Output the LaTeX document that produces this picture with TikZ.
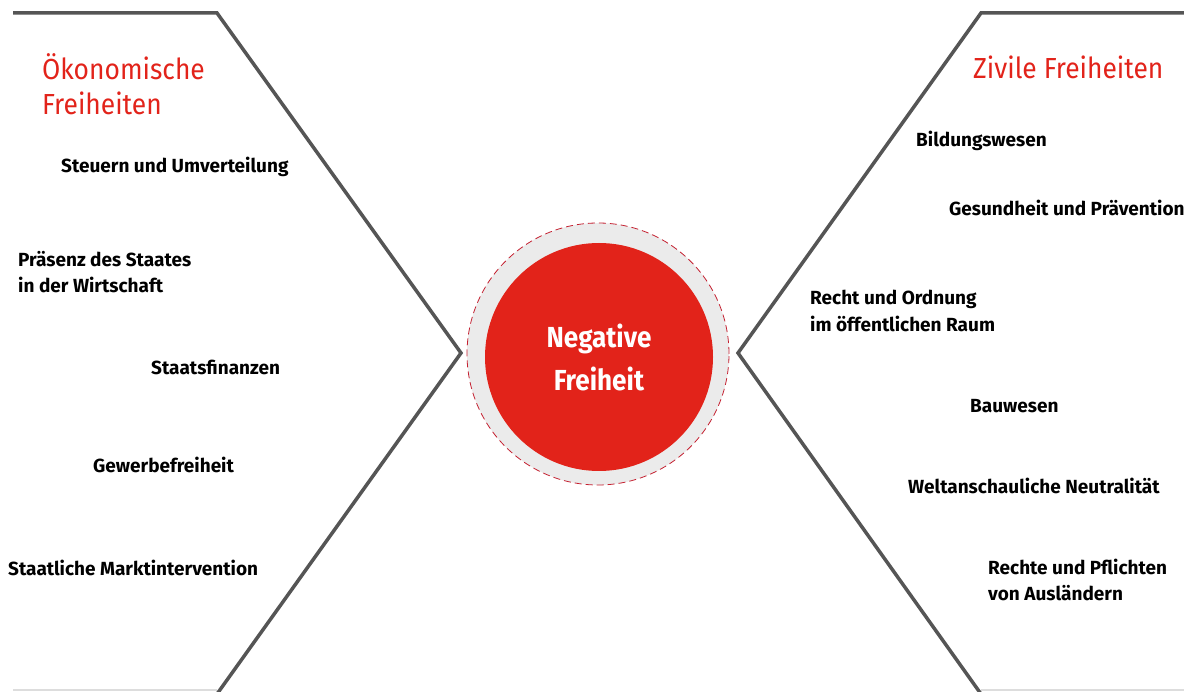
\documentclass[tikz,border=0pt]{standalone}
\usepackage{fontspec}
\setmainfont{Fira Sans}
\newfontfamily\hdfont{Fira Sans}[FakeStretch=0.91]
\newfontfamily\itfont{Fira Sans}[FakeStretch=1.0,UprightFont=*,BoldFont=* Bold]
\newfontfamily\ctfont{Fira Sans}[FakeStretch=0.9,UprightFont=*,BoldFont=* Bold]
\definecolor{frame}{HTML}{555555}
\definecolor{base}{HTML}{DDDDDD}
\definecolor{accent}{HTML}{E2231A}
\definecolor{ring}{HTML}{EBEBEB}
\definecolor{dash}{HTML}{C42030}
\tikzset{
  heading/.style={anchor=west, align=left, text=accent, font=\hdfont\fontsize{29}{35}\selectfont, inner sep=0pt},
  item/.style={anchor=west, align=left, text=black, font=\itfont\bfseries\fontsize{19}{26.5}\selectfont, inner sep=0pt},
  frameline/.style={draw=frame, line width=3.5pt, line join=miter},
  baseline/.style={draw=base, line width=2pt},
}
\begin{document}
\begin{tikzpicture}[x=1pt,y=-1pt]
\useasboundingbox (0,0) rectangle (1184,692);
% frame lines
\coordinate (lt0) at (13,13);
\coordinate (lt1) at (217,13);
\coordinate (ltip) at (461,353);
\coordinate (lb1) at (217,694);
\coordinate (rt0) at (1186,13);
\coordinate (rt1) at (981,13);
\coordinate (rtip) at (738,353);
\coordinate (rb1) at (981,694);
\draw[baseline] (13,690) -- (217,690);
\draw[baseline] (981,690) -- (1184,690);
\draw[frameline] (lt0) -- (lt1) -- (ltip) -- (lb1);
\draw[frameline] (rt0) -- (rt1) -- (rtip) -- (rb1);
% centre
\node[circle, minimum size=262pt, inner sep=0pt, fill=ring, draw=dash, dashed, line width=0.8pt, dash pattern=on 7pt off 4pt] (outer) at (598,354) {};
\node[circle, minimum size=228pt, inner sep=0pt, fill=accent, text=white, align=center,
      font=\ctfont\bfseries\fontsize{29}{43}\selectfont] (core) at (599,357) {Negative\\Freiheit};
% headings
\node[heading] (oek) at (42,84) {Ökonomische\\Freiheiten};
\node[heading] (ziv) at (973,67) {Zivile Freiheiten};
% left items
\node[item] (steuern) at (61,167) {Steuern und Umverteilung};
\node[item] (praesenz) at (18,272) {Präsenz des Staates\\in der Wirtschaft};
\node[item] (finanzen) at (151,367) {Staatsfinanzen};
\node[item] (gewerbe) at (93,465) {Gewerbefreiheit};
\node[item] (markt) at (8,568) {Staatliche Marktintervention};
% right items
\node[item] (bildung) at (916,141) {Bildungswesen};
\node[item] (gesund) at (949,208) {Gesundheit und Prävention};
\node[item] (recht) at (810,311) {Recht und Ordnung\\im öffentlichen Raum};
\node[item] (bau) at (970,406) {Bauwesen};
\node[item] (welt) at (908,486) {Weltanschauliche Neutralität};
\node[item] (ausl) at (988,580) {Rechte und Pflichten\\von Ausländern};
\end{tikzpicture}
\end{document}
